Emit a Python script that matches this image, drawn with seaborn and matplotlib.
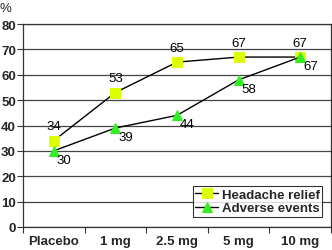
import matplotlib
matplotlib.use("Agg")
import matplotlib.pyplot as plt
import seaborn as sns
import pandas as pd
import numpy as np

categories = ["Placebo", "1 mg", "2.5 mg", "5 mg", "10 mg"]
headache_relief = [34, 53, 65, 67, 67]
adverse_events = [30, 39, 44, 58, 67]

sns.set_theme(style="white")
plt.rcParams['font.family'] = ['Liberation Sans', 'DejaVu Sans']

df = pd.DataFrame({
    "dose": categories * 2,
    "x": list(range(len(categories))) * 2,
    "value": headache_relief + adverse_events,
    "series": ["Headache relief"] * 5 + ["Adverse events"] * 5,
})

fig = plt.figure(figsize=(3.32, 2.51), dpi=100)
ax = fig.add_axes([0.069, 0.092, 0.928, 0.808])

colors = {"Headache relief": "#DDFF00", "Adverse events": "#33EE22"}
markers = {"Headache relief": "s", "Adverse events": "^"}
FS = 9.5

for s in ["Headache relief", "Adverse events"]:
    sub = df[df.series == s]
    sns.lineplot(data=sub, x="x", y="value", ax=ax, color="black", lw=1.0,
                 marker=markers[s], markersize=7.5, markerfacecolor=colors[s],
                 markeredgecolor=colors[s], label=s, zorder=3)

for i, v in enumerate(headache_relief):
    ax.annotate(str(v), (i, v), xytext=(0, 6), textcoords="offset points",
                ha="center", va="bottom", fontsize=FS, color="black")
for i, v in enumerate(adverse_events):
    ax.annotate(str(v), (i, v), xytext=(2, -2), textcoords="offset points",
                ha="left", va="top", fontsize=FS, color="black")

ax.set_xlim(-0.5, 4.5)
ax.set_ylim(0, 80)
ax.set_yticks(np.arange(0, 81, 10))
ax.set_xticks(range(len(categories)))
ax.set_xticklabels(categories, fontweight="bold", fontsize=FS)
ax.set_xticks(np.arange(-0.5, 4.6, 1), minor=True)
for lab in ax.get_yticklabels():
    lab.set_fontweight("bold")
    lab.set_fontsize(FS)
ax.tick_params(axis="x", which="major", length=0, pad=6)
ax.tick_params(axis="x", which="minor", length=4, width=0.8, direction="out", color="#333333", bottom=True)
ax.tick_params(axis="y", length=4, width=0.8, direction="out", color="#333333", left=True, pad=1)
ax.yaxis.grid(True, color="#444444", lw=0.9)
ax.set_axisbelow(True)
ax.set_xlabel("")
ax.set_ylabel("")
for sp in ax.spines.values():
    sp.set_color("#333333")
    sp.set_linewidth(0.9)

fig.text(0.0, 0.99, "%", fontsize=FS, ha="left", va="top")

leg = ax.legend(loc="lower right", bbox_to_anchor=(0.972, 0.05), frameon=True,
                fancybox=False, edgecolor="black", fontsize=FS, borderpad=0.2,
                handlelength=1.7, handletextpad=0.3, labelspacing=0.1,
                borderaxespad=0)
leg.get_frame().set_linewidth(0.8)
for t in leg.get_texts():
    t.set_fontweight("bold")

fig.savefig("out.png", dpi=100)
